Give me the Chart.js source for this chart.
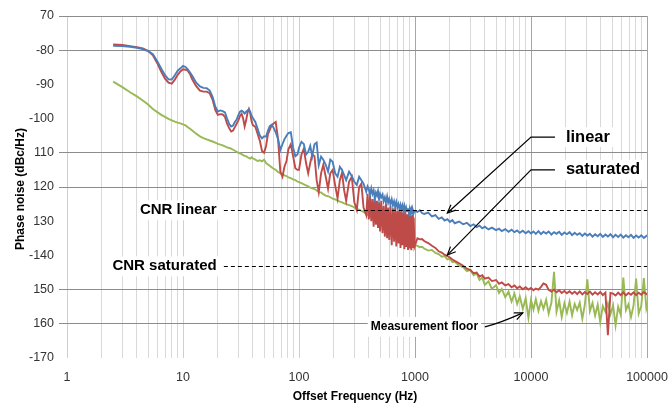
<!DOCTYPE html>
<html><head><meta charset="utf-8">
<script src="https://cdn.jsdelivr.net/npm/chart.js@4.4.0/dist/chart.umd.min.js"></script>
<style>html,body{margin:0;padding:0;background:#fff;}canvas{display:block;}</style>
</head><body>
<canvas id="c" width="670" height="405" style="width:670px;height:405px"></canvas>
<script>
// ---------- data ----------
const freqHz = [
  2.5, 3, 3.5, 4, 4.5, 5, 5.5, 6, 6.5, 7,
  7.5, 8, 8.5, 9, 9.5, 10, 10.5, 11, 11.5, 12,
  13, 14, 15, 16, 17, 18, 19, 20, 21, 22,
  23, 24, 25, 26, 27, 28, 29, 30, 31, 32,
  33, 34, 35, 36, 37, 38, 39, 40,
  42, 44, 46, 48, 50, 52, 54, 56, 58, 60,
  63, 66, 69, 72, 75, 78, 81, 85, 89, 93,
  97, 100, 105, 110, 115, 120, 125, 130, 136, 142,
  148, 155, 162, 170, 178, 186, 195, 205, 215, 225,
  235, 245, 255, 270, 285, 300, 315, 330, 345, 360,
  380, 390, 400, 410, 420, 430, 440, 450, 460, 470,
  480, 490, 500, 512, 525, 537, 550, 562, 575, 587,
  600, 615, 630, 645, 660, 675, 690, 705, 720, 735,
  750, 765, 780, 795, 810, 825, 840, 855, 870, 885,
  900, 915, 930, 945, 960, 975, 990,
  1050, 1100, 1150, 1200, 1300, 1400, 1500, 1600, 1700, 1800,
  1900, 2000, 2100, 2200, 2400, 2600, 2800, 3000, 3200, 3400,
  3600, 3800, 4000, 4300, 4600, 5000, 5300, 5600, 6000, 6400,
  6800, 7200, 7600, 8000, 8500, 9000, 9500, 10000, 10500, 11000,
  11600, 12200, 12800, 13500, 14200, 15000, 15800, 16600, 17500, 18400,
  19400, 20400, 21500, 22600, 23800, 25000, 26300, 27700, 29100, 30600,
  32200, 33900, 35700, 37600, 39500, 41600, 43800, 46000, 48400, 51000,
  53600, 56400, 59400, 62500, 65800, 69200, 72800, 76600, 80600, 84800,
  89200, 93900, 98800, 100000
];
const linearDb = [
  -78.7, -78.8, -79.0, -79.3, -79.7, -80.3, -81.2, -83.2, -85.4, -87.3,
  -88.5, -88.6, -87.3, -86.0, -85.3, -84.6, -84.9, -85.6, -86.5, -87.5,
  -89.5, -90.6, -91.0, -91.1, -91.8, -93.6, -96.5, -97.9, -97.6, -97.8,
  -98.2, -100.0, -101.5, -102.3, -102.0, -101.0, -100.3, -99.0, -98.0, -97.7,
  -98.0, -98.5, -98.0, -97.6, -97.3, -98.0, -99.2, -99.8,
  -101.0, -103.0, -105.0, -105.8, -105.2, -105.3, -103.5, -102.2, -101.8, -102.5,
  -104.0, -106.0, -109.2, -107.5, -106.0, -105.0, -104.2, -104.0, -108.5, -111.0,
  -110.5, -108.5, -106.8, -107.4, -110.5, -109.7, -108.0, -111.0, -107.5, -107.0,
  -113.6, -111.1, -112.0, -113.5, -115.5, -112.0, -112.6, -116.0, -117.0, -114.1,
  -115.0, -116.5, -118.0, -115.5, -116.8, -118.5, -119.4, -117.0, -118.0, -119.0,
  -121.4, -119.8, -120.6, -122.3, -120.4, -122.0, -121.0, -123.2, -121.6, -122.5,
  -121.2, -123.6, -122.0, -123.0, -122.2, -124.2, -123.0, -124.5, -122.8, -124.6,
  -123.5, -125.0, -123.6, -125.4, -124.2, -125.8, -124.4, -126.0, -125.0, -126.4,
  -125.2, -126.6, -125.4, -126.9, -125.6, -127.2, -126.0, -127.0, -126.2, -127.5,
  -126.3, -127.6, -126.5, -127.8, -126.8, -127.6, -127.0,
  -127.3, -126.8, -127.6, -127.9, -127.5, -128.6, -128.2, -129.3, -128.9, -129.8,
  -129.4, -130.2, -129.7, -130.6, -130.1, -130.9, -130.5, -131.4, -130.9, -131.7,
  -131.3, -132.1, -131.6, -132.4, -131.9, -132.6, -132.2, -132.9, -132.3, -133.1,
  -132.5, -133.2, -132.7, -133.4, -132.8, -133.5, -132.9, -133.6, -133.0, -133.7,
  -132.9, -133.8, -133.1, -133.6, -133.0, -133.9, -133.2, -133.7, -133.1, -134.0,
  -133.3, -133.8, -133.2, -134.1, -133.4, -134.0, -133.5, -134.3, -133.6, -134.2,
  -133.7, -134.5, -133.8, -134.4, -133.7, -134.6, -133.9, -134.5, -133.8, -134.7,
  -134.0, -134.6, -133.9, -134.8, -134.1, -134.7, -134.0, -134.9, -134.2, -134.8,
  -134.1, -134.9, -134.3, -134.5
];
const saturatedDb = [
  -78.3, -78.5, -78.8, -79.1, -79.5, -80.2, -81.5, -83.8, -86.3, -88.3,
  -89.5, -89.8, -88.6, -87.2, -86.2, -85.6, -85.7, -86.0, -87.0, -88.5,
  -90.5, -91.8, -92.1, -92.1, -92.6, -94.5, -97.5, -98.9, -98.7, -98.8,
  -99.5, -101.5, -102.8, -103.8, -103.5, -102.5, -101.5, -100.5, -99.2, -98.6,
  -100.0, -102.3, -100.5, -98.3, -97.2, -98.5, -100.8, -101.9,
  -102.4, -104.5, -106.5, -109.5, -110.0, -108.0, -104.5, -103.3, -102.0, -101.5,
  -101.0, -106.0, -115.5, -117.0, -114.0, -112.5, -109.0, -107.5, -111.0, -114.5,
  -115.0, -115.0, -110.5, -108.8, -113.0, -116.0, -113.0, -110.5, -111.0, -118.0,
  -121.5, -116.0, -113.5, -117.0, -120.5, -116.0, -115.0, -119.5, -123.3, -118.0,
  -115.8, -121.0, -124.0, -118.5, -117.0, -124.5, -126.7, -120.0, -119.0, -126.0,
  -128.2, -122.0, -129.5, -122.5, -130.0, -123.5, -131.6, -123.0, -131.0, -124.0,
  -132.0, -124.5, -133.0, -124.0, -133.5, -125.5, -134.5, -124.8, -135.0, -126.0,
  -135.5, -125.5, -137.0, -126.2, -136.0, -126.0, -137.4, -127.0, -136.5, -126.5,
  -137.8, -127.2, -137.0, -127.5, -138.2, -127.0, -137.5, -128.0, -138.4, -127.8,
  -138.0, -128.5, -138.5, -128.2, -137.8, -129.0, -137.5,
  -135.0, -135.3, -135.2, -135.8, -136.4, -137.2, -137.8, -138.8, -139.2, -139.8,
  -140.2, -140.6, -141.2, -141.6, -142.3, -143.0, -143.9, -144.3, -145.2, -145.0,
  -146.2, -145.8, -146.8, -146.5, -147.5, -147.2, -148.3, -147.9, -148.8, -148.4,
  -149.3, -148.8, -149.6, -149.1, -149.9, -149.3, -150.0, -149.5, -150.2, -149.7,
  -150.0, -149.2, -148.2, -148.6, -150.1, -150.6, -150.0, -150.8, -150.2, -151.0,
  -150.4, -151.1, -150.5, -151.2, -150.6, -151.3, -150.5, -151.4, -150.7, -151.3,
  -150.6, -151.5, -150.8, -151.4, -150.7, -151.6, -150.9, -163.3, -151.0, -151.2,
  -151.7, -150.9, -151.6, -150.8, -151.7, -151.0, -151.5, -150.8, -151.6, -150.9,
  -151.5, -150.7, -151.3, -151.0
];
const floorDb = [
  -89.2, -90.8, -92.3, -93.5, -94.7, -95.9, -97.2, -98.1, -98.9, -99.5,
  -100.1, -100.5, -100.9, -101.2, -101.4, -101.7, -102.0, -102.5, -103.0, -103.5,
  -104.4, -105.2, -105.7, -106.1, -106.4, -106.7, -107.0, -107.4, -107.6, -107.8,
  -108.1, -108.4, -108.6, -108.8, -109.1, -109.4, -109.7, -110.0, -110.2, -110.4,
  -110.7, -110.9, -111.0, -111.3, -111.5, -111.7, -111.3, -111.6,
  -112.0, -112.4, -112.2, -112.5, -112.0, -113.0, -113.4, -113.8, -114.2, -114.6,
  -115.0, -115.6, -116.0, -116.2, -116.6, -116.8, -117.2, -117.4, -117.8, -118.0,
  -118.4, -118.6, -118.9, -119.2, -119.5, -119.8, -120.2, -120.4, -120.6, -121.0,
  -121.5, -121.6, -122.1, -122.5, -122.7, -123.0, -123.4, -123.6, -124.0, -124.3,
  -124.5, -124.8, -125.0, -125.3, -125.6, -126.0, -126.5, -126.6, -127.0, -127.3,
  -127.8, -128.1, -128.3, -128.6, -128.8, -129.0, -129.2, -129.5, -129.6, -129.9,
  -130.0, -130.2, -130.3, -130.6, -130.8, -131.0, -131.2, -131.5, -131.8, -132.0,
  -132.3, -132.5, -132.8, -133.0, -133.3, -133.6, -133.8, -134.0, -134.2, -134.4,
  -134.6, -134.8, -135.0, -135.1, -135.3, -135.5, -135.7, -135.8, -136.0, -136.1,
  -136.2, -136.3, -136.4, -136.5, -136.6, -136.8, -136.9,
  -137.2, -137.6, -137.5, -138.0, -138.6, -138.4, -139.3, -139.6, -140.4, -140.2,
  -141.2, -141.0, -142.0, -141.8, -143.0, -143.4, -144.6, -144.2, -145.8, -145.3,
  -147.2, -146.5, -148.6, -147.6, -149.8, -148.7, -151.0, -149.8, -152.2, -150.6,
  -153.5, -151.2, -154.2, -152.0, -155.6, -152.5, -158.3, -153.0, -155.8, -152.8,
  -156.2, -153.4, -155.6, -153.0, -157.0, -153.8, -144.8, -156.5, -153.2, -158.0,
  -154.0, -156.8, -153.5, -157.5, -154.2, -156.0, -153.8, -158.5, -154.5, -147.0,
  -156.3, -153.9, -157.6, -154.4, -159.5, -154.8, -156.5, -154.0, -157.2, -154.6,
  -160.5, -155.0, -157.4, -146.5, -156.0, -154.3, -158.0, -154.6, -146.8, -157.0,
  -154.8, -146.6, -155.5, -154.8
];
const yTickValues = [-70, -80, -90, -100, -110, -120, -130, -140, -150, -160, -170];
const yTickLabels = ['70', '-80', '-90', '-100', '110', '120', '130', '-140', '150', '160', '-170'];
const yGridShown = [-70, -80, -110, -120, -150, -160];
const xMajorHz = [1, 10, 100, 1000, 10000, 100000];
const xTickLabels = ['1', '10', '100', '1000', '10000', '100000'];
// annotation anchors (data units)
const cnrLinearDb = -126.8;
const cnrSaturatedDb = -143.2;
const cnrDashStartHz = 22.5;
const cnrLabelEndHz = 19.5;
const calloutTextHz = 20000;
const calloutElbowHz = 10000;
const calloutLeaderEndHz = 16100;
const linearCallout = {tipHz: 1900, tipDb: -127.6, elbowDb: -105.4};
const saturatedCallout = {tipHz: 1900, tipDb: -139.9, elbowDb: -115.0};
const floorCallout = {textEndHz: 3500, textDb: -160.9, startHz: 4000, startDb: -160.9, ctrlHz: 5400, ctrlDb: -159.8, tipHz: 8500, tipDb: -156.8};
// target plot box inside the 670x405 canvas
const plotBox = {left: 67, right: 647, top: 16, bottom: 358};

// ---------- helpers ----------
const xGridHz = [];
for (let d = 0; d < xMajorHz.length; d++) {
  const base = xMajorHz[d];
  if (base === 100000) { xGridHz.push(base); break; }
  for (let m = 1; m <= 9; m++) xGridHz.push(base * m);
}
const toPts = vals => freqHz.map((f, i) => ({x: f, y: vals[i]}));

function arrowHead(ctx, fx, fy, tx, ty) {
  const a = Math.atan2(ty - fy, tx - fx), L = 9, w = 0.42;
  ctx.beginPath();
  ctx.moveTo(tx - L * Math.cos(a - w), ty - L * Math.sin(a - w));
  ctx.lineTo(tx, ty);
  ctx.lineTo(tx - L * Math.cos(a + w), ty - L * Math.sin(a + w));
  ctx.stroke();
}
function boxedText(ctx, text, x, y, align) {
  ctx.textAlign = align; ctx.textBaseline = 'middle';
  const w = ctx.measureText(text).width;
  const left = align === 'right' ? x - w : x;
  ctx.fillStyle = '#fff';
  ctx.fillRect(left - 3, y - 10, w + 6, 20);
  ctx.fillStyle = '#000';
  ctx.fillText(text, x, y);
}

// pin the plot box to the reference position
const pinLayout = {
  id: 'pinLayout',
  afterLayout(chart) {
    const b = plotBox;
    chart.chartArea = {left: b.left, top: b.top, right: b.right, bottom: b.bottom,
                       width: b.right - b.left, height: b.bottom - b.top};
    const x = chart.scales.x, y = chart.scales.y;
    x.left = b.left; x.right = b.right; x.width = b.right - b.left;
    x.top = b.bottom; x.bottom = chart.height; x.height = chart.height - b.bottom;
    y.left = 0; y.right = b.left; y.width = b.left;
    y.top = b.top; y.bottom = b.bottom; y.height = b.bottom - b.top;
    x.configure(); y.configure();
  }
};

const annotPlugin = {
  id: 'annot',
  afterDraw(chart) {
    const {ctx, chartArea} = chart;
    const xs = chart.scales.x, ys = chart.scales.y;
    const X = v => xs.getPixelForValue(v), Y = v => ys.getPixelForValue(v);
    ctx.save();
    ctx.strokeStyle = '#000'; ctx.lineWidth = 1.2; ctx.setLineDash([4, 3]);
    [cnrLinearDb, cnrSaturatedDb].forEach(v => {
      const yy = Math.round(Y(v)) + 0.5;
      ctx.beginPath(); ctx.moveTo(X(cnrDashStartHz), yy); ctx.lineTo(X(xMajorHz[xMajorHz.length - 1]), yy); ctx.stroke();
    });
    ctx.setLineDash([]);
    ctx.font = 'bold 15px "Liberation Sans"';
    boxedText(ctx, 'CNR linear', X(cnrLabelEndHz), Y(cnrLinearDb), 'right');
    boxedText(ctx, 'CNR saturated', X(cnrLabelEndHz), Y(cnrSaturatedDb), 'right');
    ctx.strokeStyle = '#000'; ctx.lineWidth = 1.2;
    [linearCallout, saturatedCallout].forEach(c => {
      const ex = X(calloutElbowHz), ey = Y(c.elbowDb), tx = X(c.tipHz), ty = Y(c.tipDb);
      ctx.beginPath();
      ctx.moveTo(X(calloutLeaderEndHz), ey); ctx.lineTo(ex, ey); ctx.lineTo(tx, ty);
      ctx.stroke();
      arrowHead(ctx, ex, ey, tx, ty);
    });
    ctx.font = 'bold 16.5px "Liberation Sans"';
    boxedText(ctx, 'linear', X(calloutTextHz), Y(linearCallout.elbowDb), 'left');
    boxedText(ctx, 'saturated', X(calloutTextHz), Y(saturatedCallout.elbowDb), 'left');
    const f = floorCallout;
    ctx.beginPath();
    ctx.moveTo(X(f.startHz), Y(f.startDb));
    ctx.quadraticCurveTo(X(f.ctrlHz), Y(f.ctrlDb), X(f.tipHz), Y(f.tipDb));
    ctx.stroke();
    arrowHead(ctx, X(f.ctrlHz), Y(f.ctrlDb), X(f.tipHz), Y(f.tipDb));
    ctx.font = 'bold 12px "Liberation Sans"';
    boxedText(ctx, 'Measurement floor', X(f.textEndHz), Y(f.textDb), 'right');
    ctx.fillStyle = '#000';
    ctx.font = 'bold 12px "Liberation Sans"';
    ctx.textAlign = 'center'; ctx.textBaseline = 'middle';
    ctx.fillText('Offset Frequency (Hz)', (chartArea.left + chartArea.right) / 2 - 2, 397);
    ctx.translate(21, (chartArea.top + chartArea.bottom) / 2 + 2);
    ctx.rotate(-Math.PI / 2);
    ctx.fillText('Phase noise (dBc/Hz)', 0, 0);
    ctx.restore();
  }
};

const lineDs = (label, vals, color) => ({
  label, data: toPts(vals), borderColor: color, backgroundColor: color,
  borderWidth: 1.9, pointRadius: 0, tension: 0, fill: false
});

new Chart(document.getElementById('c'), {
  type: 'line',
  data: {
    datasets: [
      lineDs('linear', linearDb, '#4A7EBB'),
      lineDs('saturated', saturatedDb, '#BE4B48'),
      lineDs('Measurement floor', floorDb, '#98B954')
    ]
  },
  options: {
    responsive: false, animation: false, events: [], devicePixelRatio: 1,
    layout: {padding: {left: 0, right: 23, top: 16, bottom: 0}},
    plugins: {legend: {display: false}, tooltip: {enabled: false}},
    scales: {
      x: {
        type: 'logarithmic', min: 1, max: 100000,
        afterBuildTicks: s => { s.ticks = xGridHz.map(v => ({value: v})); },
        afterFit: s => { s.height = 47; },
        ticks: {
          autoSkip: false, maxRotation: 0, minRotation: 0, padding: 12,
          font: {family: 'Liberation Sans', size: 12.5}, color: '#333',
          callback: v => { const i = xMajorHz.indexOf(v); return i >= 0 ? xTickLabels[i] : ''; }
        },
        grid: {
          drawTicks: false, lineWidth: 1,
          color: c => {
            const v = c.tick ? c.tick.value : 0;
            if (v >= 1000 && xMajorHz.includes(v)) return '#a6a6a6';
            if (xMajorHz.includes(v)) return '#cfcfcf';
            return '#d9d9d9';
          }
        },
        border: {display: false}
      },
      y: {
        type: 'linear', min: -170, max: -70,
        afterBuildTicks: s => { s.ticks = yTickValues.map(v => ({value: v})); },
        afterFit: s => { s.width = 67; },
        ticks: {
          padding: 5, font: {family: 'Liberation Sans', size: 12.5}, color: '#333',
          callback: v => yTickLabels[yTickValues.indexOf(v)]
        },
        grid: {
          tickLength: 8, lineWidth: 1,
          color: c => (c.tick && yGridShown.includes(c.tick.value)) ? '#8c8c8c' : 'rgba(0,0,0,0)'
        },
        border: {display: false}
      }
    }
  },
  plugins: [pinLayout, annotPlugin]
});
</script>
</body></html>
